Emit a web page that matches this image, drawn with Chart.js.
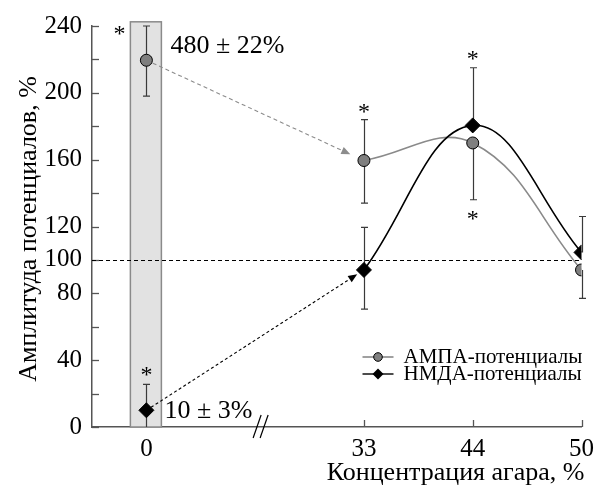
<!DOCTYPE html>
<html><head><meta charset="utf-8">
<script src="https://cdn.jsdelivr.net/npm/chart.js@4"></script>
<style>html,body{margin:0;padding:0;background:#fff}#wrap{width:601px;height:486px;position:relative}</style>
</head><body><div id="wrap"><canvas id="c" width="601" height="486"></canvas></div>
<script>
// ---- data ----
const categories = ['0', '33', '44', '50'];
const seriesNames = ['АМПА-потенциалы', 'НМДА-потенциалы'];
const ampa = [219.5, 159.5, 170, 94];
const ampaErrLow = [198, 134, 136, 77];
const ampaErrHigh = [240, 184, 170, 94];
const ampaSignificant = [true, true, true, false];
const nmda = [10, 94, 180.5, 104.5];
const nmdaErrLow = [0, 70.5, 180.5, 104.5];
const nmdaErrHigh = [25.5, 119.5, 215, 126];
const nmdaSignificant = [true, false, true, false];
const yLabelValues = [0, 40, 80, 100, 120, 160, 200, 240];
const yMinorStep = 20;
const baselineValue = 100;
const controlLabels = ['480 ± 22%', '10 ± 3%'];
const xAxisTitle = 'Концентрация агара, %';
const yAxisTitle = 'Амплитуда потенциалов, %';

// broken axis: first category, then a gap, then equally spaced categories
const axisPos = i => (i === 0 ? 0 : i + 1);

const ampaPts = ampa.map((v, i) => ({x: axisPos(i), y: v}));
const nmdaPts = nmda.map((v, i) => ({x: axisPos(i), y: v}));

Chart.defaults.font.family = 'Liberation Serif';

const decor = {
  id: 'decor',
  beforeDatasetsDraw(chart) {
    const {ctx, chartArea: a, scales: {x, y}} = chart;
    ctx.save();
    ctx.strokeStyle = '#555'; ctx.lineWidth = 1.3;
    for (let v = 0; v <= 240; v += yMinorStep) {
      const py = Math.round(y.getPixelForValue(v)) + 0.5;
      ctx.beginPath(); ctx.moveTo(a.left, py); ctx.lineTo(a.left + 7, py); ctx.stroke();
    }
    categories.forEach((c, i) => {
      const px = Math.round(x.getPixelForValue(axisPos(i))) + 0.5;
      ctx.beginPath(); ctx.moveTo(px, a.bottom); ctx.lineTo(px, a.bottom - 7); ctx.stroke();
    });
    const cx = x.getPixelForValue(axisPos(0));
    const top = y.getPixelForValue(242.5), bot = y.getPixelForValue(0);
    ctx.fillStyle = '#e2e2e2';
    ctx.fillRect(cx - 16, top, 31, bot - top);
    ctx.strokeStyle = '#8a8a8a'; ctx.lineWidth = 1.5;
    ctx.strokeRect(cx - 16, top, 31, bot - top);
    const by = Math.round(y.getPixelForValue(baselineValue)) + 0.5;
    ctx.strokeStyle = '#000'; ctx.lineWidth = 1; ctx.setLineDash([4, 3]);
    ctx.beginPath(); ctx.moveTo(a.left, by); ctx.lineTo(a.right, by); ctx.stroke();
    ctx.setLineDash([]);
    const arrow = (vals, color, dash, gap) => {
      const x0 = x.getPixelForValue(axisPos(0)), y0 = y.getPixelForValue(vals[0]);
      const x1 = x.getPixelForValue(axisPos(1)), y1 = y.getPixelForValue(vals[1]);
      const L = Math.hypot(x1 - x0, y1 - y0), ux = (x1 - x0) / L, uy = (y1 - y0) / L;
      const tx = x1 - ux * gap, ty = y1 - uy * gap;
      const hl = 9, hw = 3.8;
      ctx.strokeStyle = color; ctx.fillStyle = color; ctx.lineWidth = 1.1; ctx.setLineDash(dash);
      ctx.beginPath(); ctx.moveTo(x0, y0); ctx.lineTo(tx - ux * hl, ty - uy * hl); ctx.stroke();
      ctx.setLineDash([]);
      ctx.beginPath(); ctx.moveTo(tx, ty);
      ctx.lineTo(tx - ux * hl - uy * hw, ty - uy * hl + ux * hw);
      ctx.lineTo(tx - ux * hl + uy * hw, ty - uy * hl - ux * hw);
      ctx.closePath(); ctx.fill();
    };
    arrow(ampa, '#8c8c8c', [4, 3], 15);
    arrow(nmda, '#000', [3, 2.5], 8);
    const errs = (vals, lo, hi) => {
      ctx.strokeStyle = '#3a3a3a'; ctx.lineWidth = 1.2;
      vals.forEach((v, i) => {
        const px = Math.round(x.getPixelForValue(axisPos(i))) + 0.5;
        const pv = y.getPixelForValue(v);
        const pl = y.getPixelForValue(lo[i]), ph = y.getPixelForValue(hi[i]);
        ctx.beginPath();
        if (hi[i] > v) { ctx.moveTo(px, pv); ctx.lineTo(px, ph); ctx.moveTo(px - 3.5, ph); ctx.lineTo(px + 3.5, ph); }
        if (lo[i] < v) {
          ctx.moveTo(px, pv); ctx.lineTo(px, pl);
          if (lo[i] > 0) { ctx.moveTo(px - 3.5, pl); ctx.lineTo(px + 3.5, pl); }
        }
        ctx.stroke();
      });
    };
    errs(ampa, ampaErrLow, ampaErrHigh);
    errs(nmda, nmdaErrLow, nmdaErrHigh);
    ctx.restore();
  },
  afterDatasetsDraw(chart) {
    const {ctx, chartArea: a, scales: {x, y}} = chart;
    ctx.save();
    ctx.fillStyle = '#000';
    const star = (px, py) => {
      ctx.font = '24px "Liberation Serif"'; ctx.textAlign = 'center'; ctx.textBaseline = 'alphabetic';
      ctx.fillText('*', px, py + 12);
    };
    ampaSignificant.forEach((s, i) => {
      if (!s) return;
      const px = x.getPixelForValue(axisPos(i));
      if (i === 0) star(px - 27, y.getPixelForValue(ampaErrHigh[i]) + 3);
      else if (ampaErrHigh[i] <= ampa[i]) star(px, y.getPixelForValue(ampaErrLow[i]) + 14);
      else star(px, y.getPixelForValue(ampaErrHigh[i]) - 13);
    });
    nmdaSignificant.forEach((s, i) => {
      if (!s) return;
      star(x.getPixelForValue(axisPos(i)), y.getPixelForValue(nmdaErrHigh[i]) - 14);
    });
    ctx.font = '26px "Liberation Serif"'; ctx.textAlign = 'left'; ctx.textBaseline = 'middle';
    ctx.fillText(controlLabels[0], x.getPixelForValue(axisPos(0)) + 24, y.getPixelForValue(ampa[0]) - 14);
    ctx.fillText(controlLabels[1], x.getPixelForValue(axisPos(0)) + 18, y.getPixelForValue(nmda[0]) + 1);
    const bx = x.getPixelForValue(1.05);
    ctx.strokeStyle = '#000'; ctx.lineWidth = 1.2;
    [-3.5, 3.5].forEach(d => {
      ctx.beginPath(); ctx.moveTo(bx + d - 4, a.bottom + 11); ctx.lineTo(bx + d + 4, a.bottom - 12); ctx.stroke();
    });
    const lx = a.right - 219, rows = [a.bottom - 70, a.bottom - 53];
    ctx.font = '21px "Liberation Serif"'; ctx.textBaseline = 'middle'; ctx.textAlign = 'left';
    rows.forEach((ry, k) => {
      ctx.strokeStyle = k === 0 ? '#777' : '#000'; ctx.lineWidth = 1.4;
      ctx.beginPath(); ctx.moveTo(lx, ry); ctx.lineTo(lx + 31, ry); ctx.stroke();
      ctx.lineWidth = 1; ctx.strokeStyle = '#000';
      if (k === 0) {
        ctx.fillStyle = '#808080';
        ctx.beginPath(); ctx.arc(lx + 15.5, ry, 4.3, 0, Math.PI * 2); ctx.fill(); ctx.stroke();
      } else {
        ctx.fillStyle = '#000';
        ctx.beginPath(); ctx.moveTo(lx + 15.5, ry - 5.5); ctx.lineTo(lx + 21, ry);
        ctx.lineTo(lx + 15.5, ry + 5.5); ctx.lineTo(lx + 10, ry); ctx.closePath(); ctx.fill();
      }
      ctx.fillStyle = '#000';
      ctx.fillText(seriesNames[k], lx + 41, ry);
    });
    ctx.font = '26px "Liberation Serif"';
    ctx.textAlign = 'right'; ctx.textBaseline = 'middle';
    ctx.fillText(xAxisTitle, a.right + 3, a.bottom + 46);
    ctx.translate(29, 229); ctx.rotate(-Math.PI / 2);
    ctx.textAlign = 'center';
    ctx.fillText(yAxisTitle, 0, 0);
    ctx.restore();
  }
};

new Chart(document.getElementById('c'), {
  type: 'line',
  data: {
    datasets: [
      {label: seriesNames[1], data: nmdaPts, showLine: false, pointStyle: 'rectRot', pointRadius: 7.5,
       pointBackgroundColor: '#000', pointBorderColor: '#000', pointBorderWidth: 1, order: 0},
      {label: seriesNames[0], data: ampaPts, showLine: false, pointStyle: 'circle', pointRadius: 6,
       pointBackgroundColor: '#7f7f7f', pointBorderColor: '#000', pointBorderWidth: 1, order: 1},
      {label: seriesNames[1] + ' curve', data: nmdaPts.slice(1), borderColor: '#000', borderWidth: 1.6,
       tension: 0.4, pointRadius: 0, fill: false, order: 2},
      {label: seriesNames[0] + ' curve', data: ampaPts.slice(1), borderColor: '#8a8a8a', borderWidth: 1.6,
       tension: 0.4, pointRadius: 0, fill: false, order: 3}
    ]
  },
  options: {
    responsive: false, animation: false, events: [],
    layout: {padding: {top: 26, right: 14, left: 0, bottom: 0}},
    plugins: {legend: {display: false}, tooltip: {enabled: false}},
    scales: {
      x: {
        type: 'linear', min: -0.5, max: 4, offset: false,
        afterFit: s => { s.height = 59; },
        afterBuildTicks: s => { s.ticks = categories.map((c, i) => ({value: axisPos(i)})); },
        ticks: {
          autoSkip: false, maxRotation: 0, padding: 7, color: '#000',
          font: {size: 25},
          callback: v => { const i = categories.findIndex((c, k) => axisPos(k) === v); return i >= 0 ? categories[i] : ''; }
        },
        grid: {display: true, drawOnChartArea: false, drawTicks: false},
        border: {color: '#555', width: 1.5}
      },
      y: {
        min: 0, max: 240,
        afterFit: s => { s.width = 92; },
        afterBuildTicks: s => { s.ticks = yLabelValues.map(v => ({value: v})); },
        ticks: {padding: 10, color: '#000', font: {size: 25}},
        grid: {display: true, drawOnChartArea: false, drawTicks: false},
        border: {color: '#555', width: 1.5}
      }
    }
  },
  plugins: [decor]
});
</script>
</body></html>
